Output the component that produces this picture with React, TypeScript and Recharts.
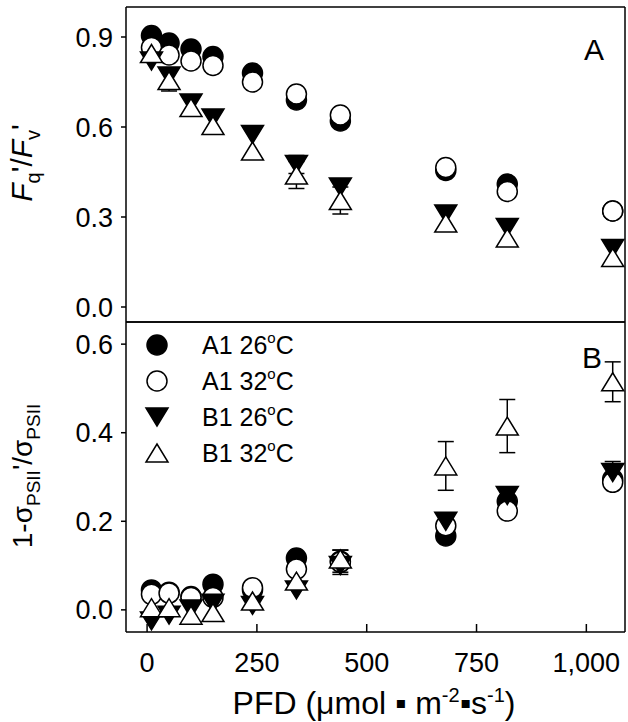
import { ScatterChart, Scatter, XAxis, YAxis, ErrorBar, Legend } from 'recharts';

// PFD levels (umol m-2 s-1)
const pfd = [10, 50, 100, 150, 240, 340, 440, 680, 820, 1060];

// panel A: Fq'/Fv'
const a1_26_A = [0.905, 0.88, 0.86, 0.835, 0.78, 0.69, 0.62, 0.455, 0.41, 0.32];
const a1_32_A = [0.865, 0.84, 0.82, 0.805, 0.75, 0.71, 0.64, 0.465, 0.385, 0.32];
const b1_26_A = [0.82, 0.77, 0.68, 0.63, 0.575, 0.475, 0.4, 0.31, 0.265, 0.195];
const b1_32_A = [0.845, 0.755, 0.665, 0.605, 0.52, 0.44, 0.355, 0.28, 0.23, 0.165];
const b1_26_A_err = [0, 0, 0, 0, 0, 0.03, 0, 0, 0, 0];
const b1_32_A_err = [0, 0.035, 0, 0, 0, 0.045, 0.045, 0, 0, 0];

// panel B: 1 - sigmaPSII'/sigmaPSII
const a1_26_B = [0.045, 0.04, 0.03, 0.058, 0.045, 0.117, 0.11, 0.167, 0.245, 0.295];
const a1_32_B = [0.035, 0.038, 0.028, 0.028, 0.05, 0.092, 0.108, 0.19, 0.223, 0.288];
const b1_26_B = [-0.025, -0.012, 0.002, 0.015, 0.01, 0.045, 0.1, 0.2, 0.258, 0.31];
const b1_32_B = [0.005, 0.005, -0.012, -0.006, 0.02, 0.065, 0.115, 0.325, 0.415, 0.515];
const a1_26_B_err = [0, 0, 0, 0, 0, 0, 0.025, 0, 0, 0];
const b1_26_B_err = [0, 0, 0, 0, 0, 0, 0.02, 0, 0, 0.025];
const b1_32_B_err = [0, 0, 0, 0, 0, 0, 0.02, 0.055, 0.06, 0.045];

const seriesNames = ['A1 26', 'A1 32', 'B1 26', 'B1 32'];

const ticksA = [0, 0.3, 0.6, 0.9];
const ticksB = [0, 0.2, 0.4, 0.6];
const xTicksA = [0, 300, 600, 900];
const xTicksB = [0, 250, 500, 750, 1000];

const zeros = pfd.map(() => 0);
const rows = (ys: number[], errs: number[] = zeros) =>
  pfd.map((x, i) => ({ x, y: ys[i], err: errs[i] }));

const FONT = '"Liberation Sans", Arial, sans-serif';
const line = { stroke: '#000', strokeWidth: 1.5 };
const xDomain = [-48, 1088];

const dot = (fill: string) => (p: any) =>
  <circle cx={p.cx} cy={p.cy} r={10} fill={fill} stroke="#000" strokeWidth={1.5} />;

const tri = (fill: string, up: boolean) => (p: any) => {
  const { cx, cy } = p;
  const w = 11, h = 9;
  const s = up ? 1 : -1;
  const pts = `${cx - w},${cy + s * h} ${cx + w},${cy + s * h} ${cx},${cy - s * h}`;
  return <polygon points={pts} fill={fill} stroke="#000" strokeWidth={1.5} />;
};

const shapes = [dot('#000'), dot('#fff'), tri('#000', false), tri('#fff', true)];

function LegendBox() {
  return (
    <svg width={200} height={140} style={{ overflow: 'visible' }}>
      {seriesNames.map((name, i) => {
        const cy = 18 + i * 36;
        return (
          <g key={name}>
            {shapes[i]({ cx: 17, cy })}
            <text x={62} y={cy + 9} fontSize={25} fontFamily={FONT} fill="#000">
              {name}
              <tspan dy={-11} fontSize={15}>o</tspan>
              <tspan dy={11}>C</tspan>
            </text>
          </g>
        );
      })}
    </svg>
  );
}

function Panel({ top, bottom, yDomain, yTicks, xTicks, data, errs, showLabels, legend }: any) {
  return (
    <div style={{ position: 'absolute', left: 0, top: 0 }}>
      <ScatterChart width={628} height={722} margin={{ top: top - 1, right: 2, bottom, left: 0 }}>
        <XAxis
          type="number" dataKey="x" domain={xDomain} ticks={xTicks} allowDataOverflow
          height={showLabels ? 90 : 1} tick={showLabels ? { fontSize: 27, fill: '#000', fontFamily: FONT } : false}
          tickSize={-8} tickMargin={29} tickFormatter={(v: number) => v.toLocaleString('en-US')}
          axisLine={line} tickLine={line}
        />
        <XAxis
          xAxisId="top" orientation="top" type="number" domain={xDomain} ticks={showLabels ? xTicks : [0]}
          allowDataOverflow height={1} tick={false} tickSize={showLabels ? -8 : 0} axisLine={line}
          tickLine={showLabels ? line : false}
        />
        <YAxis
          type="number" dataKey="y" domain={yDomain} ticks={yTicks} allowDataOverflow width={126}
          tickSize={5} tickMargin={8} tickFormatter={(v: number) => v.toFixed(1)}
          tick={{ fontSize: 27, fill: '#000', fontFamily: FONT }} axisLine={line} tickLine={line}
        />
        <YAxis
          yAxisId="right" orientation="right" type="number" domain={[0, 1]} ticks={[0]} width={1}
          tick={false} tickLine={false} axisLine={line}
        />
        {legend && (
          <Legend
            layout="horizontal" verticalAlign="middle" align="center" content={LegendBox}
            wrapperStyle={{ left: 140, top: 327, width: 200, height: 140 }}
          />
        )}
        {data.map((ys: number[], i: number) => (
          <Scatter
            key={seriesNames[i]} name={seriesNames[i]} data={rows(ys, errs[i])}
            shape={shapes[i]} isAnimationActive={false}
          >
            <ErrorBar dataKey="err" direction="y" width={8} stroke="#000" strokeWidth={1.5} />
          </Scatter>
        ))}
      </ScatterChart>
    </div>
  );
}

export default function App() {
  return (
    <div style={{ position: 'absolute', left: 0, top: 0, width: 628, height: 722, background: '#fff' }}>
      <Panel
        top={7} bottom={399} yDomain={[-0.05, 1.0]} yTicks={ticksA} xTicks={xTicksA}
        data={[a1_26_A, a1_32_A, b1_26_A, b1_32_A]} errs={[zeros, zeros, b1_26_A_err, b1_32_A_err]}
      />
      <Panel
        top={322} bottom={0} yDomain={[-0.05, 0.65]} yTicks={ticksB} xTicks={xTicksB} showLabels legend
        data={[a1_26_B, a1_32_B, b1_26_B, b1_32_B]} errs={[a1_26_B_err, zeros, b1_26_B_err, b1_32_B_err]}
      />
      <svg width={628} height={722} style={{ position: 'absolute', left: 0, top: 0, pointerEvents: 'none' }}
        fontFamily={FONT} fill="#000">
        <text x={594} y={60} fontSize={30} textAnchor="middle">A</text>
        <text x={592} y={368} fontSize={30} textAnchor="middle">B</text>
        <text transform="rotate(-90 32 163)" x={32} y={163} fontSize={30} textAnchor="middle">
          <tspan fontStyle="italic">F</tspan>
          <tspan dy={8} fontSize={20}>q</tspan>
          <tspan dy={-8}>'/</tspan>
          <tspan fontStyle="italic">F</tspan>
          <tspan dy={8} fontSize={20}>v</tspan>
          <tspan dy={-8}>'</tspan>
        </text>
        <text transform="rotate(-90 32 476)" x={32} y={476} fontSize={28} textAnchor="middle">
          1-σ
          <tspan dy={8} fontSize={19}>PSII</tspan>
          <tspan dy={-8}>'/σ</tspan>
          <tspan dy={8} fontSize={19}>PSII</tspan>
        </text>
        <text x={374} y={714} fontSize={32} textAnchor="middle">
          PFD (μmol ▪ m
          <tspan dy={-12} fontSize={20}>-2</tspan>
          <tspan dy={12}>▪s</tspan>
          <tspan dy={-12} fontSize={20}>-1</tspan>
          <tspan dy={12}>)</tspan>
        </text>
      </svg>
    </div>
  );
}
